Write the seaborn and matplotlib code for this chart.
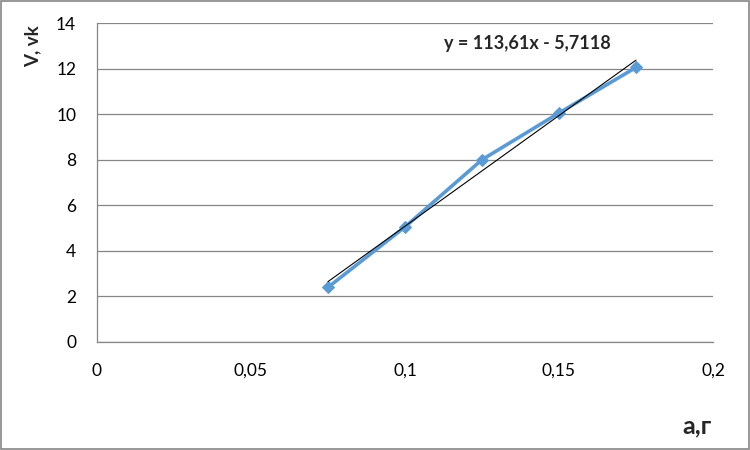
import matplotlib
matplotlib.use("Agg")
import matplotlib.pyplot as plt
import seaborn as sns
import numpy as np
import pandas as pd

# data
mass_g = [0.075, 0.1, 0.125, 0.15, 0.175]
volume = [2.4, 5.05, 8.0, 10.05, 12.05]
x_ticks = [0, 0.05, 0.1, 0.15, 0.2]
x_tick_labels = ["0", "0,05", "0,1", "0,15", "0,2"]
y_ticks = [0, 2, 4, 6, 8, 10, 12, 14]
equation = "y = 113,61x - 5,7118"
x_label = "а,г"
y_label = "V, vk"

sns.set_style("white")
plt.rcParams['font.family'] = ['Lato', 'DejaVu Sans']

df = pd.DataFrame({"m": mass_g, "v": volume})

fig = plt.figure(figsize=(7.5, 4.5), dpi=100)
ax = fig.add_axes([97/750, 1-342/450, (713-97)/750, (342-23)/450])

grid_c = "#868686"
blue = "#5B9BD5"

sns.lineplot(data=df, x="m", y="v", ax=ax, color=blue, lw=2.6,
             marker="D", markersize=6.5, markeredgecolor=blue, zorder=3)
sns.regplot(data=df, x="m", y="v", ax=ax, scatter=False, ci=None,
            line_kws=dict(color="black", lw=0.8, zorder=4))

ax.set_xlim(0, 0.2)
ax.set_ylim(0, 14)
ax.set_xticks(x_ticks)
ax.set_xticklabels(x_tick_labels)
ax.set_yticks(y_ticks)
ax.set_yticklabels([str(v) for v in y_ticks])
ax.yaxis.grid(True, color=grid_c, lw=0.9)
ax.xaxis.grid(False)
ax.set_axisbelow(True)

for s in ["top", "right"]:
    ax.spines[s].set_visible(False)
for s in ["left", "bottom"]:
    ax.spines[s].set_visible(True)
    ax.spines[s].set_color(grid_c)
    ax.spines[s].set_linewidth(0.9)

ax.tick_params(axis="both", which="major", direction="out", length=6,
               width=0.9, color=grid_c, labelsize=12.5, labelcolor="black")
ax.tick_params(axis="y", pad=9)
ax.tick_params(axis="x", pad=9)

ax.set_xlabel("")
ax.set_ylabel("")
fig.text(33/750, 1-46/450, y_label, rotation=90, ha="center", va="center",
         fontsize=13.5, fontweight="bold")
fig.text(697/750, 1-426/450, x_label, ha="center", va="center",
         fontsize=18, fontweight="bold")
fig.text(527/750, 1-43/450, equation, ha="center", va="center",
         fontsize=13, fontweight="bold")

# outer border
fig.patches.append(plt.Rectangle((0.001, 0.002), 0.997, 0.996,
                                 transform=fig.transFigure, fill=False,
                                 edgecolor=grid_c, lw=1.2))

fig.savefig("out.png", dpi=100)
